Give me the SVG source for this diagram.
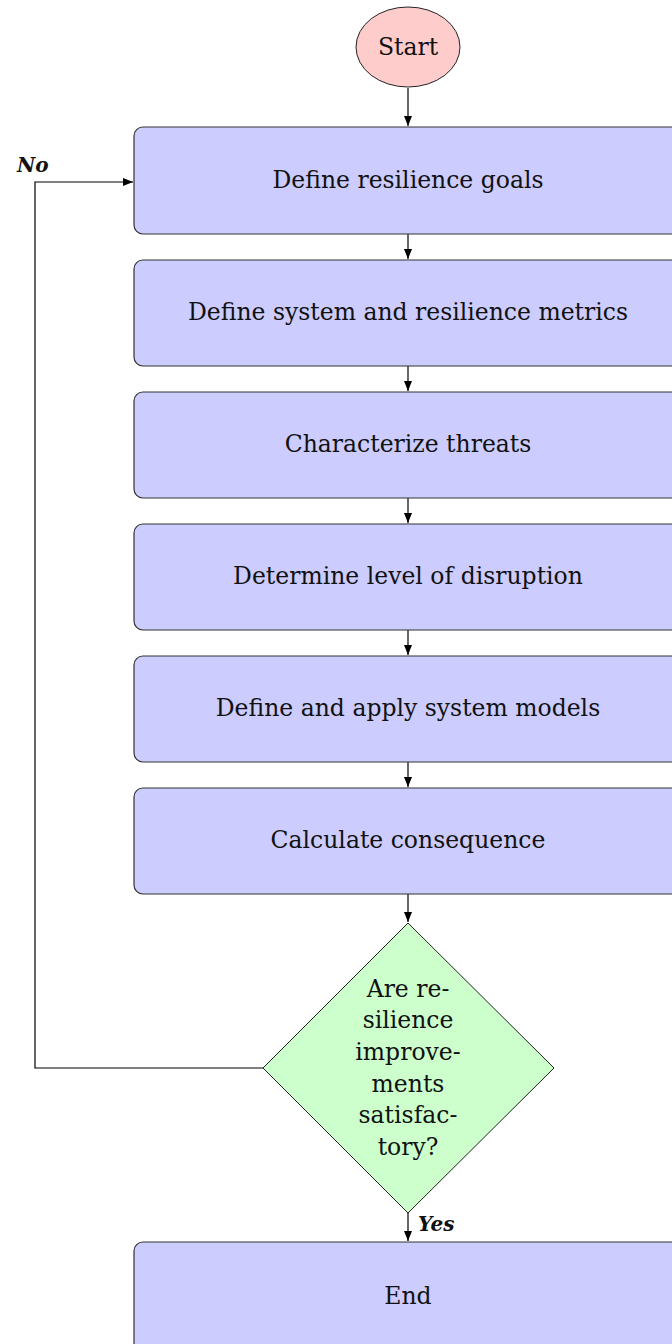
<svg xmlns="http://www.w3.org/2000/svg" width="672" height="1344" viewBox="0 0 672 1344">
  <style>
    .box { fill: #ccccff; stroke: #333333; stroke-width: 1.2; }
    .dec { fill: #ccffcc; stroke: #222222; stroke-width: 1; }
    .term { fill: #ffcccc; stroke: #222222; stroke-width: 1; }
    .lbl { font-family: "DejaVu Serif", "Liberation Serif", serif; font-size: 23.5px; fill: #111111; text-anchor: middle; }
    .tag { font-family: "DejaVu Serif", "Liberation Serif", serif; font-size: 20px; font-weight: bold; font-style: italic; fill: #111111; }
    .conn { fill: none; stroke: #000000; stroke-width: 1.2; }
  </style>
  <defs>
    <marker id="arrow" viewBox="0 0 10 10" refX="10" refY="5" markerWidth="10" markerHeight="10" markerUnits="userSpaceOnUse" orient="auto">
      <path d="M0,1 L10,5 L0,9 Z" fill="#000000"/>
    </marker>
  </defs>

  <g id="connectors">
    <line class="conn" x1="408" y1="88" x2="408" y2="126" marker-end="url(#arrow)"/>
    <line class="conn" x1="408" y1="234" x2="408" y2="259" marker-end="url(#arrow)"/>
    <line class="conn" x1="408" y1="366" x2="408" y2="391" marker-end="url(#arrow)"/>
    <line class="conn" x1="408" y1="498" x2="408" y2="523" marker-end="url(#arrow)"/>
    <line class="conn" x1="408" y1="630" x2="408" y2="655" marker-end="url(#arrow)"/>
    <line class="conn" x1="408" y1="762" x2="408" y2="787" marker-end="url(#arrow)"/>
    <line class="conn" x1="408" y1="894" x2="408" y2="922" marker-end="url(#arrow)"/>
    <line class="conn" x1="408" y1="1213" x2="408" y2="1241" marker-end="url(#arrow)"/>
    <polyline class="conn" points="263,1068 35,1068 35,182 133,182" marker-end="url(#arrow)"/>
    <text class="tag" x="17" y="172">No</text>
    <text class="tag" x="418" y="1231">Yes</text>
  </g>

  <g id="start">
    <ellipse class="term" cx="408" cy="47" rx="52" ry="40"/>
    <text class="lbl" x="408" y="55">Start</text>
  </g>

  <g id="goals">
    <rect class="box" x="134" y="127" width="548" height="107" rx="9"/>
    <text class="lbl" x="408" y="188">Define resilience goals</text>
  </g>

  <g id="metrics">
    <rect class="box" x="134" y="260" width="548" height="106" rx="9"/>
    <text class="lbl" x="408" y="320">Define system and resilience metrics</text>
  </g>

  <g id="threats">
    <rect class="box" x="134" y="392" width="548" height="106" rx="9"/>
    <text class="lbl" x="408" y="452">Characterize threats</text>
  </g>

  <g id="disruption">
    <rect class="box" x="134" y="524" width="548" height="106" rx="9"/>
    <text class="lbl" x="408" y="584">Determine level of disruption</text>
  </g>

  <g id="models">
    <rect class="box" x="134" y="656" width="548" height="106" rx="9"/>
    <text class="lbl" x="408" y="716">Define and apply system models</text>
  </g>

  <g id="consequence">
    <rect class="box" x="134" y="788" width="548" height="106" rx="9"/>
    <text class="lbl" x="408" y="848">Calculate consequence</text>
  </g>

  <g id="decision">
    <polygon class="dec" points="408,923 554,1068 408,1213 263,1068"/>
    <text class="lbl" x="408" y="997">Are re-</text>
    <text class="lbl" x="408" y="1028">silience</text>
    <text class="lbl" x="408" y="1060">improve-</text>
    <text class="lbl" x="408" y="1092">ments</text>
    <text class="lbl" x="408" y="1123">satisfac-</text>
    <text class="lbl" x="408" y="1155">tory?</text>
  </g>

  <g id="end">
    <rect class="box" x="134" y="1242" width="548" height="112" rx="9"/>
    <text class="lbl" x="408" y="1304">End</text>
  </g>
</svg>
